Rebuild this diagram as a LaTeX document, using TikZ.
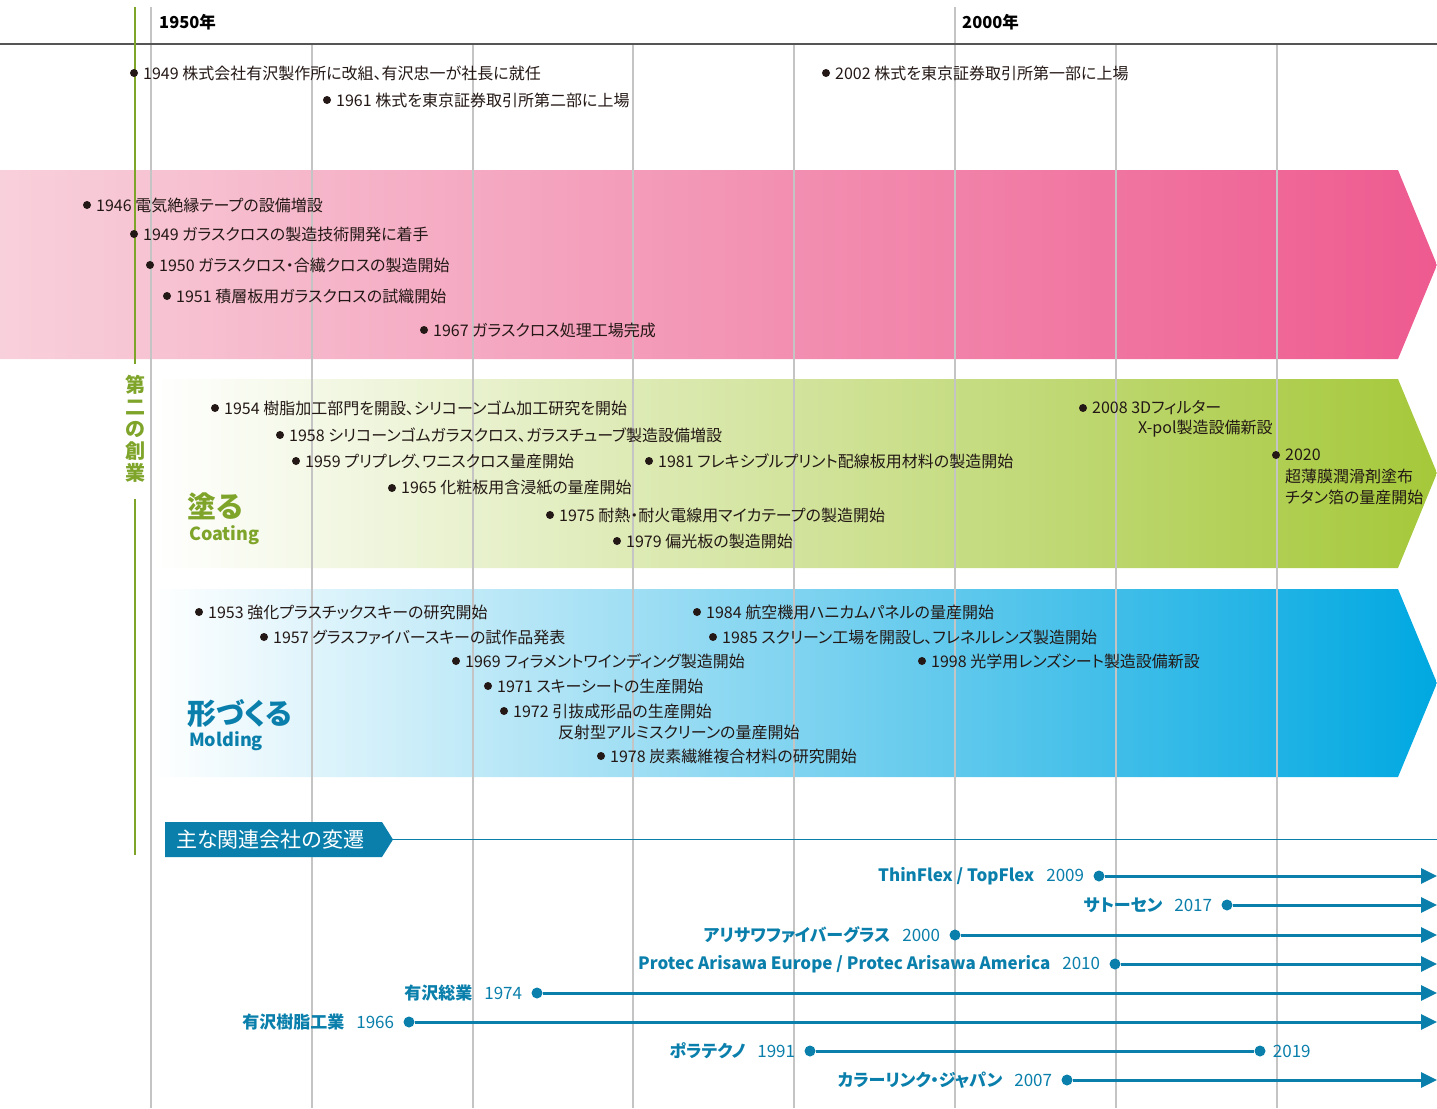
\documentclass[tikz,border=0pt]{standalone}
\usepackage{fontspec}
\setmainfont{Noto Sans CJK JP}[RawFeature=+palt]
\usetikzlibrary{arrows.meta}

\definecolor{ink}{HTML}{231815}
\definecolor{gridgray}{HTML}{C4C4C4}
\definecolor{axisgray}{HTML}{555555}
\definecolor{sogreen}{HTML}{7FA42A}
\definecolor{firm}{HTML}{0A7FAB}
\definecolor{pinkL}{HTML}{F8D0DB}
\definecolor{pinkR}{HTML}{EE5A8F}
\definecolor{greenR}{HTML}{A5C83A}
\definecolor{blueR}{HTML}{00A8E1}

% one event: dot + text
\newcommand{\ev}[4]{%
  \fill[ink] (#2,#3) circle (4pt);
  \node[evt] (#1) at (#2+9,#3) {#4};}
% one related company line
\newcommand{\firm}[5]{%
  \node[cdot] (#1) at (#2,#3) {};
  \coordinate (#1end) at (1437,#3);
  \draw[cline] (#1) -- (#1end);
  \node[clabel] (#1lab) at ([xshift=-9pt]#1.west) {{\bfseries #4}\hspace{12pt}#5};}

\begin{document}
\begin{tikzpicture}[x=1pt, y=-1pt,
  evt/.style={anchor=west, inner sep=0pt, text=ink, font=\fontsize{16}{19}\selectfont},
  cdot/.style={circle, fill=firm, inner sep=0pt, minimum size=11pt},
  cline/.style={firm, line width=3pt, -{Triangle[length=16pt,width=15pt]}},
  clabel/.style={anchor=east, inner sep=0pt, text=firm, font=\fontsize{17}{20}\selectfont},
  grid/.style={gridgray, line width=1.2pt},
  yearlab/.style={anchor=west, inner sep=0pt, font=\fontsize{16.5}{19}\selectfont\bfseries},
  bandjp/.style={anchor=west, inner sep=0pt, font=\fontsize{29}{32}\selectfont\bfseries},
  banden/.style={anchor=west, inner sep=0pt, font=\fontsize{18}{20}\selectfont\bfseries}]
\useasboundingbox (0,0) rectangle (1437,1108);

% bands
\shade[left color=pinkL, right color=pinkR] (0,170) -- (1398,170) -- (1437,265) -- (1398,359) -- (0,359) -- cycle;
\shade[left color=white, right color=greenR] (152,379) -- (1398,379) -- (1437,473) -- (1398,568) -- (152,568) -- cycle;
\shade[left color=white, right color=blueR] (152,589) -- (1398,589) -- (1437,683) -- (1398,777) -- (152,777) -- cycle;

% decade grid
\foreach \x in {312,473,633,794,1116,1277}
  \draw[grid] (\x,44) -- (\x,1108);
\foreach \x in {151,955}
  \draw[grid] (\x,7) -- (\x,1108);
\draw[axisgray, line width=1.5pt] (0,44) -- (1437,44);
\node[yearlab] (y1950) at (159,22) {1950年};
\node[yearlab] (y2000) at (962,22) {2000年};

% second founding
\draw[sogreen, line width=2.4pt] (135,7) -- (135,364);
\draw[sogreen, line width=2.4pt] (135,499) -- (135,855);
\node[align=center, inner sep=0pt, text=sogreen, font=\fontsize{20}{22}\selectfont\bfseries] (sogyo) at (135,429) {第\\二\\の\\創\\業};

% company
\ev{e1949}{134}{73}{1949 株式会社有沢製作所に改組、有沢忠一が社長に就任}
\ev{e1961}{327}{100}{1961 株式を東京証券取引所第二部に上場}
\ev{e2002}{826}{73}{2002 株式を東京証券取引所第一部に上場}

% glass cloth
\ev{g1946}{87}{205}{1946 電気絶縁テープの設備増設}
\ev{g1949}{134}{234}{1949 ガラスクロスの製造技術開発に着手}
\ev{g1950}{150}{265}{1950 ガラスクロス・合繊クロスの製造開始}
\ev{g1951}{167}{296}{1951 積層板用ガラスクロスの試織開始}
\ev{g1967}{424}{330}{1967 ガラスクロス処理工場完成}

% coating
\node[bandjp, text=sogreen] (nuru) at (187,506) {塗る};
\node[banden, text=sogreen] (coat) at (189,535) {Coating};
\ev{c1954}{215}{408}{1954 樹脂加工部門を開設、シリコーンゴム加工研究を開始}
\ev{c1958}{280}{435}{1958 シリコーンゴムガラスクロス、ガラスチューブ製造設備増設}
\ev{c1959}{296}{461}{1959 プリプレグ、ワニスクロス量産開始}
\ev{c1965}{392}{488}{1965 化粧板用含浸紙の量産開始}
\ev{c1975}{550}{515}{1975 耐熱・耐火電線用マイカテープの製造開始}
\ev{c1979}{617}{541}{1979 偏光板の製造開始}
\ev{c1981}{649}{461}{1981 フレキシブルプリント配線板用材料の製造開始}
\ev{c2008}{1083}{408}{2008 3Dフィルター}
\node[evt] (c2008b) at (1138,429) {X-pol製造設備新設};
\ev{c2020}{1276}{455}{2020}
\node[evt] (c2020b) at (1285,476) {超薄膜潤滑剤塗布};
\node[evt] (c2020c) at (1285,497) {チタン箔の量産開始};

% molding
\node[bandjp, text=firm] (katachi) at (187,713) {形づくる};
\node[banden, text=firm] (mold) at (189,741) {Molding};
\ev{m1953}{199}{612}{1953 強化プラスチックスキーの研究開始}
\ev{m1957}{264}{637}{1957 グラスファイバースキーの試作品発表}
\ev{m1969}{456}{661}{1969 フィラメントワインディング製造開始}
\ev{m1971}{488}{686}{1971 スキーシートの生産開始}
\ev{m1972}{504}{711}{1972 引抜成形品の生産開始}
\node[evt] (m1972b) at (558,732) {反射型アルミスクリーンの量産開始};
\ev{m1978}{601}{756}{1978 炭素繊維複合材料の研究開始}
\ev{m1984}{697}{612}{1984 航空機用ハニカムパネルの量産開始}
\ev{m1985}{713}{637}{1985 スクリーン工場を開設し、フレネルレンズ製造開始}
\ev{m1998}{922}{661}{1998 光学用レンズシート製造設備新設}

% related companies
\fill[firm] (165,822) -- (382,822) -- (393,839.5) -- (382,857) -- (165,857) -- cycle;
\node[anchor=west, inner sep=0pt, text=white, font=\fontsize{21}{24}\selectfont] (hdr) at (176,839.5) {主な関連会社の変遷};
\coordinate (hdrtip) at (393,839.5);
\coordinate (hdrend) at (1437,839.5);
\draw[firm, line width=1.2pt] (hdrtip) -- (hdrend);

\firm{f2009}{1099}{876}{ThinFlex / TopFlex}{2009}
\firm{f2017}{1227}{905}{サトーセン}{2017}
\firm{f2000}{955}{935}{アリサワファイバーグラス}{2000}
\firm{f2010}{1115}{964}{Protec Arisawa Europe / Protec Arisawa America}{2010}
\firm{f1974}{537}{993}{有沢総業}{1974}
\firm{f1966}{409}{1022}{有沢樹脂工業}{1966}
\firm{f2007}{1067}{1080}{カラーリンク・ジャパン}{2007}
\node[cdot] (f1991) at (810,1051) {};
\node[cdot] (f2019) at (1260,1051) {};
\draw[firm, line width=3pt] (f1991) -- (f2019);
\node[clabel] (f1991lab) at ([xshift=-9pt]f1991.west) {{\bfseries ポラテクノ}\hspace{12pt}1991};
\node[clabel, anchor=west] (f2019lab) at ([xshift=7pt]f2019.east) {2019};
\end{tikzpicture}
\end{document}
